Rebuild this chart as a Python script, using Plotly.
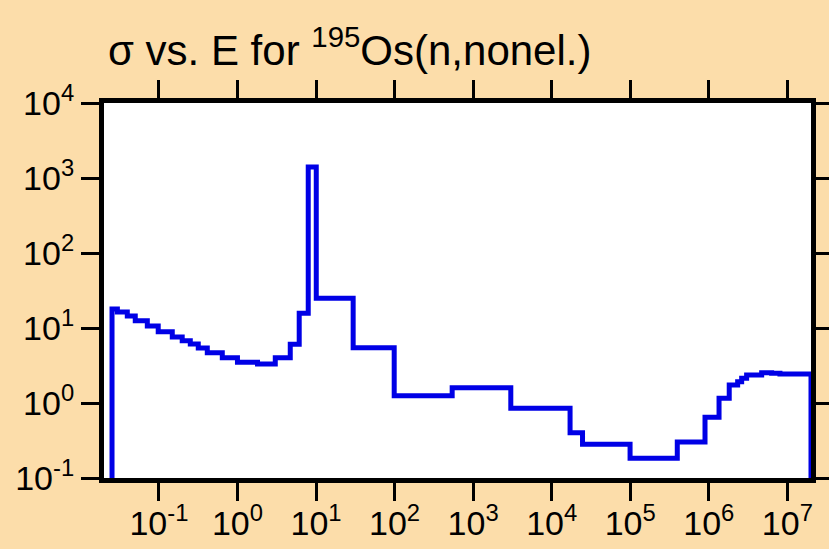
import numpy as np
import plotly.graph_objects as go

# Group boundaries (eV) and the cross section (b) held within each group
energy_edges = [0.0253, 0.0296, 0.0396, 0.050, 0.0712, 0.098, 0.148, 0.198,
                0.251, 0.317, 0.413, 0.641, 1.0, 1.80, 3.03, 4.70, 6.11, 7.96,
                10.07, 29.7, 98.9, 541, 3017, 17140, 24700, 99500, 397000,
                895000, 1.35e6, 1.82e6, 2.33e6, 2.62e6, 3.03e6, 4.71e6,
                6.31e6, 8.05e6, 2.0e7]
sigma = [17.9, 16.3, 14.5, 12.5, 10.6, 8.93, 7.59, 6.77, 6.12, 5.41, 4.69,
         4.02, 3.49, 3.31, 4.02, 6.06, 15.7, 1402, 24.9, 5.46, 1.25, 1.60,
         0.85, 0.40, 0.281, 0.183, 0.302, 0.645, 1.156, 1.74, 1.92, 2.13,
         2.36, 2.54, 2.49, 2.44]

x_tick_vals = [1e-1, 1e0, 1e1, 1e2, 1e3, 1e4, 1e5, 1e6, 1e7]
x_tick_text = ["10<sup>-1</sup>", "10<sup>0</sup>", "10<sup>1</sup>",
               "10<sup>2</sup>", "10<sup>3</sup>", "10<sup>4</sup>",
               "10<sup>5</sup>", "10<sup>6</sup>", "10<sup>7</sup>"]
y_tick_vals = [1e-1, 1e0, 1e1, 1e2, 1e3, 1e4]
y_tick_text = ["10<sup>-1</sup>", "10<sup>0</sup>", "10<sup>1</sup>",
               "10<sup>2</sup>", "10<sup>3</sup>", "10<sup>4</sup>"]

floor = 1e-3  # drop the histogram outline below the axis at both ends
xs = [energy_edges[0]] + energy_edges
ys = [floor] + sigma + [floor]

BG = "#FCDDAA"
FONT = "Liberation Sans, Arial, Helvetica, sans-serif"

fig = go.Figure(go.Scatter(
    x=xs, y=ys, mode="lines", line_shape="hv",
    line=dict(color="#0000E6", width=5),
    hoverinfo="skip", showlegend=False,
))

axis_common = dict(
    type="log", showline=True, linewidth=5, linecolor="black",
    mirror="ticks", ticks="outside", ticklen=18, tickwidth=2.5,
    tickcolor="black", showgrid=False, zeroline=False, automargin=False,
    tickfont=dict(family=FONT, size=34, color="black"),
)

fig.update_xaxes(range=[np.log10(0.02), np.log10(2e7)],
                 tickmode="array", tickvals=x_tick_vals, ticktext=x_tick_text,
                 ticklabelstandoff=-7, **axis_common)
fig.update_yaxes(range=[-1, 4],
                 tickmode="array", tickvals=y_tick_vals, ticktext=y_tick_text,
                 **axis_common)

fig.update_layout(
    width=829, height=549,
    margin=dict(l=104, r=18, t=103, b=71, autoexpand=False),
    paper_bgcolor=BG, plot_bgcolor="white",
    title=dict(text="σ vs. E for <sup>195</sup>Os(n,nonel.)",
               font=dict(family=FONT, size=42, color="black"),
               xref="container", x=108 / 829, xanchor="left",
               yref="container", y=1 - 50 / 549, yanchor="middle"),
)

# keep the page exactly the size of the figure (no scrollbars)
page_css = ("document.documentElement.style.margin='0';"
            "document.body.style.margin='0';"
            "document.body.style.overflow='hidden';")

fig.write_html("out.html", post_script=page_css)
